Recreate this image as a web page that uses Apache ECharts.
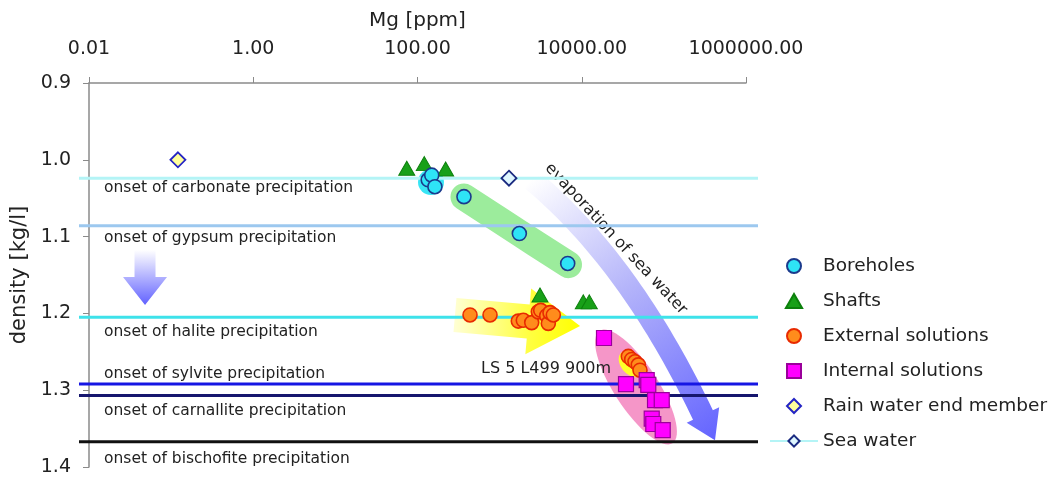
<!DOCTYPE html>
<html><head><meta charset="utf-8">
<script src="https://cdn.jsdelivr.net/npm/echarts@6/dist/echarts.min.js"></script>
<style>html,body{margin:0;padding:0;background:#fff}#c{width:1056px;height:479px}</style>
</head><body><div id="c"></div>
<script>
// ---------- data ----------
const xTickLabels = ['0.01', '1.00', '100.00', '10000.00', '1000000.00'];
const yTickLabels = ['0.9', '1.0', '1.1', '1.2', '1.3', '1.4'];

const boreholesMg      = [135, 149, 163, 368, 1738, 6745];
const boreholesDensity = [1.026, 1.020, 1.035, 1.048, 1.096, 1.135];

const shaftsMg      = [74, 121, 220, 3100, 10450, 12360];
const shaftsDensity = [1.011, 1.005, 1.012, 1.176, 1.185, 1.185];

const externalMg      = [436, 764, 1688, 1941, 2459, 2958, 3162, 3741, 3917, 4105, 4508, 36900, 40550, 44500, 48850, 51200];
const externalDensity = [1.202, 1.202, 1.210, 1.209, 1.212, 1.198, 1.196, 1.203, 1.213, 1.199, 1.202, 1.256, 1.260, 1.263, 1.267, 1.274];

const internalMg      = [18660, 34580, 61800, 64600, 78000, 94200, 71100, 74300, 96800];
const internalDensity = [1.232, 1.292, 1.287, 1.293, 1.313, 1.313, 1.337, 1.344, 1.352];

const rainMg = [0.121];
const rainDensity = [1.000];

const seaMg = [1300];
const seaDensity = [1.024];

const onsetLabels  = ['onset of carbonate precipitation', 'onset of gypsum precipitation', 'onset of halite precipitation',
                      'onset of sylvite precipitation', 'onset of carnallite precipitation', 'onset of bischofite precipitation'];
const onsetDensity = [1.024, 1.086, 1.205, 1.292, 1.307, 1.367];
const onsetLabelDensity = [1.0367, 1.1018, 1.2242, 1.2789, 1.3271, 1.3898];
const onsetColors  = ['#b4f4f6', '#9cc8ef', '#3ee2ea', '#1616e4', '#16166e', '#111111'];

// annotation anchors in data units [Mg, density]
const greenBand   = [[368, 1.0484], [1738, 1.0953], [6900, 1.1365]];
const cyanBlob    = [146, 1.0289];
const pinkEllipse = [45800, 1.2958];
const yellowBlob  = [39800, 1.2659];
const yellowArrow = [[286, 1.2021], [9530, 1.2164]];
const downArrow   = [[0.0481, 1.1174], [0.0481, 1.189]];
const evapArrow   = [[2478, 1.0263], [38700, 1.1331], [299000, 1.3323]];
const evapTextAt  = [26100, 1.1031];
const lsTextAt    = [3673, 1.2724];

// ---------- helpers ----------
const FONT = 'DejaVu Sans';
const pairs = (xs, ys) => xs.map((x, i) => [x, ys[i]]);

function ellipsePts(c, rx, ry, deg) {
  const a = deg * Math.PI / 180, pts = [];
  for (let k = 0; k < 64; k++) {
    const t = k / 64 * Math.PI * 2;
    const ex = rx * Math.cos(t), ey = ry * Math.sin(t);
    pts.push([c[0] + ex * Math.cos(a) - ey * Math.sin(a), c[1] + ex * Math.sin(a) + ey * Math.cos(a)]);
  }
  return pts;
}
function straightArrow(p0, p1, bw, hw, hl) {
  const dx = p1[0] - p0[0], dy = p1[1] - p0[1], L = Math.hypot(dx, dy);
  const ux = dx / L, uy = dy / L, nx = -uy, ny = ux;
  const b = [p1[0] - ux * hl, p1[1] - uy * hl];
  return [
    [p0[0] + nx * bw, p0[1] + ny * bw], [b[0] + nx * bw, b[1] + ny * bw], [b[0] + nx * hw, b[1] + ny * hw],
    p1, [b[0] - nx * hw, b[1] - ny * hw], [b[0] - nx * bw, b[1] - ny * bw], [p0[0] - nx * bw, p0[1] - ny * bw]
  ];
}
function curvedArrow(p0, c, p2, bw, hw, hl) {
  const left = [], right = [];
  let last;
  for (let k = 0; k <= 40; k++) {
    const t = k / 40, u = 1 - t;
    const x = u * u * p0[0] + 2 * u * t * c[0] + t * t * p2[0];
    const y = u * u * p0[1] + 2 * u * t * c[1] + t * t * p2[1];
    const tx = 2 * u * (c[0] - p0[0]) + 2 * t * (p2[0] - c[0]);
    const ty = 2 * u * (c[1] - p0[1]) + 2 * t * (p2[1] - c[1]);
    const L = Math.hypot(tx, ty), nx = -ty / L, ny = tx / L;
    left.push([x + nx * bw, y + ny * bw]);
    right.push([x - nx * bw, y - ny * bw]);
    last = {x, y, ux: tx / L, uy: ty / L, nx, ny};
  }
  const tip = [last.x + last.ux * hl, last.y + last.uy * hl];
  const head = [[last.x + last.nx * hw, last.y + last.ny * hw], tip, [last.x - last.nx * hw, last.y - last.ny * hw]];
  return {pts: left.concat(head, right.reverse()), tip};
}

const chart = echarts.init(document.getElementById('c'));

function renderDecor(params, api) {
  const c = p => api.coord(p);
  const ch = [];
  ch.push({type: 'polyline', shape: {points: greenBand.map(c), smooth: 0.4},
           style: {stroke: '#9cec9c', lineWidth: 27, lineCap: 'round', lineJoin: 'round', fill: 'none'}});
  const cb = c(cyanBlob);
  ch.push({type: 'circle', shape: {cx: cb[0], cy: cb[1], r: 13}, style: {fill: 'rgba(34,226,244,0.9)'}});
  ch.push({type: 'polygon', shape: {points: ellipsePts(c(pinkEllipse), 67, 22, 57)}, style: {fill: '#f596c8'}});
  ch.push({type: 'polygon', shape: {points: ellipsePts(c(yellowBlob), 15, 10, 50)}, style: {fill: '#ffff2a'}});
  const ya0 = c(yellowArrow[0]), ya1 = c(yellowArrow[1]);
  ch.push({type: 'polygon', shape: {points: straightArrow(ya0, ya1, 17, 33, 52)},
           style: {fill: new echarts.graphic.LinearGradient(ya0[0], 0, ya1[0], 0,
             [{offset: 0, color: '#ffffd2'}, {offset: 0.6, color: '#ffff40'}, {offset: 1, color: '#ffff00'}], true)}});
  const da0 = c(downArrow[0]), da1 = c(downArrow[1]);
  ch.push({type: 'polygon', shape: {points: straightArrow(da0, da1, 10.5, 22, 28)},
           style: {fill: new echarts.graphic.LinearGradient(0, da0[1], 0, da1[1],
             [{offset: 0, color: '#ffffff'}, {offset: 1, color: '#6262ff'}], true)}});
  const e0 = c(evapArrow[0]), e1 = c(evapArrow[1]), e2 = c(evapArrow[2]);
  const ea = curvedArrow(e0, e1, e2, 11, 18, 28);
  ch.push({type: 'polygon', shape: {points: ea.pts},
           style: {fill: new echarts.graphic.LinearGradient(e0[0], e0[1], ea.tip[0], ea.tip[1],
             [{offset: 0, color: '#ffffff'}, {offset: 0.45, color: '#b4b4fa'}, {offset: 1, color: '#6464ff'}], true)}});
  const et = c(evapTextAt);
  ch.push({type: 'text', x: et[0], y: et[1], rotation: -47 * Math.PI / 180,
           style: {text: 'evaporation of sea water', font: '16px "' + FONT + '"', fill: '#222', align: 'center', verticalAlign: 'middle'}});
  const ls = c(lsTextAt);
  ch.push({type: 'text', x: ls[0], y: ls[1],
           style: {text: 'LS 5 L499 900m', font: '16px "' + FONT + '"', fill: '#222', align: 'center', verticalAlign: 'middle'}});
  return {type: 'group', children: ch};
}

function renderOnset(params, api) {
  const i = params.dataIndex;
  const cs = params.coordSys;
  const y = api.coord([1, api.value(1)])[1];
  const ly = api.coord([1, onsetLabelDensity[i]])[1];
  return {type: 'group', children: [
    {type: 'line', shape: {x1: cs.x - 10, y1: y, x2: cs.x + cs.width + 12, y2: y},
     style: {stroke: onsetColors[i], lineWidth: 3}},
    {type: 'text', x: cs.x + 15, y: ly,
     style: {text: onsetLabels[i], font: '15.5px "' + FONT + '"', fill: '#222', align: 'left', verticalAlign: 'middle'}}
  ]};
}

const option = {
  animation: false,
  backgroundColor: '#fff',
  textStyle: {fontFamily: FONT},
  grid: {left: 89, right: 310, top: 83, bottom: 12, containLabel: false},
  xAxis: {
    type: 'log', logBase: 100, min: 0.01, max: 1000000, position: 'top',
    name: 'Mg [ppm]', nameLocation: 'middle', nameGap: 52,
    nameTextStyle: {fontSize: 20, color: '#222', fontFamily: FONT},
    axisLine: {lineStyle: {color: '#8a8a8a', width: 1.5}},
    axisTick: {inside: false, length: 6, lineStyle: {color: '#8a8a8a'}},
    axisLabel: {fontSize: 19, color: '#222', margin: 24,
      formatter: v => { const k = Math.round(Math.log(v) / Math.log(100)) + 1; return xTickLabels[k] !== undefined ? xTickLabels[k] : v.toFixed(2); }},
    splitLine: {show: false}, minorTick: {show: false}
  },
  yAxis: {
    type: 'value', min: 0.9, max: 1.4, interval: 0.1, inverse: true,
    name: 'density [kg/l]', nameLocation: 'middle', nameGap: 58, nameRotate: 90,
    nameTextStyle: {fontSize: 21, color: '#222', fontFamily: FONT},
    axisLine: {show: true, lineStyle: {color: '#8a8a8a', width: 1.5}},
    axisTick: {show: true, inside: false, length: 6, lineStyle: {color: '#8a8a8a'}},
    axisLabel: {fontSize: 19, color: '#222', margin: 18,
      formatter: v => { const k = Math.round((v - 0.9) * 10); return yTickLabels[k] !== undefined ? yTickLabels[k] : v.toFixed(1); }},
    splitLine: {show: false}
  },
  legend: {
    orient: 'vertical', left: 764, top: 251, itemWidth: 48, itemHeight: 14, itemGap: 15,
    textStyle: {fontSize: 18.5, color: '#222', fontFamily: FONT, lineHeight: 20},
    data: [
      {name: 'Boreholes', icon: 'circle'},
      {name: 'Shafts', icon: 'path://M5,0L10,8.66L0,8.66Z'},
      {name: 'External solutions', icon: 'circle'},
      {name: 'Internal solutions', icon: 'path://M0,0H10V10H0Z'},
      {name: 'Rain water end member', icon: 'path://M5,0L10,5L5,10L0,5Z'},
      {name: 'Sea water'}
    ]
  },
  series: [
    {type: 'custom', name: 'decor', z: 1, silent: true, clip: false, renderItem: renderDecor,
     data: [[1, 1]], encode: {x: 0, y: 1}},
    {type: 'custom', name: 'onset', z: 2, silent: true, clip: false, renderItem: renderOnset,
     data: onsetDensity.map(d => [1, d]), encode: {x: 0, y: 1}},
    {type: 'scatter', name: 'Shafts', z: 3, symbol: 'triangle', symbolSize: [16, 14],
     itemStyle: {color: '#18a018', borderColor: '#0c800c', borderWidth: 1, opacity: 1},
     data: pairs(shaftsMg, shaftsDensity)},
    {type: 'scatter', name: 'Boreholes', z: 4, symbol: 'circle', symbolSize: 14,
     itemStyle: {color: '#2ee4f6', borderColor: '#1b3a8c', borderWidth: 1.6, opacity: 1},
     data: pairs(boreholesMg, boreholesDensity)},
    {type: 'scatter', name: 'External solutions', z: 4, symbol: 'circle', symbolSize: 14,
     itemStyle: {color: '#ff8c1c', borderColor: '#e82a00', borderWidth: 1.6, opacity: 1},
     data: pairs(externalMg, externalDensity)},
    {type: 'scatter', name: 'Internal solutions', z: 5, symbol: 'rect', symbolSize: 15,
     itemStyle: {color: '#ff00ff', borderColor: '#9a009a', borderWidth: 1.2, opacity: 1},
     data: pairs(internalMg, internalDensity)},
    {type: 'scatter', name: 'Rain water end member', z: 5, symbol: 'diamond', symbolSize: 15,
     itemStyle: {color: '#ffff9c', borderColor: '#2424c4', borderWidth: 1.8, opacity: 1},
     data: pairs(rainMg, rainDensity)},
    {type: 'line', name: 'Sea water', z: 5, symbol: 'diamond', symbolSize: 15, showSymbol: true,
     lineStyle: {color: '#b4f4f6', width: 3},
     itemStyle: {color: '#dff7ff', borderColor: '#1a2a80', borderWidth: 1.8},
     data: pairs(seaMg, seaDensity)}
  ]
};
chart.setOption(option);
</script>
</body></html>
